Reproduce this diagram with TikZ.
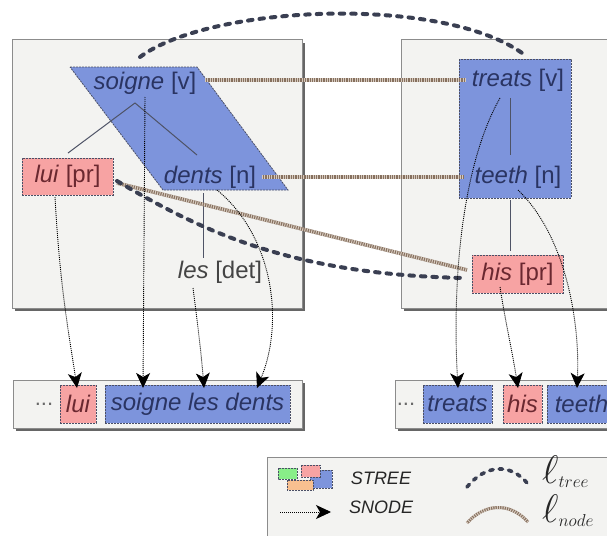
\documentclass[tikz,border=0pt]{standalone}
\usepackage{fontspec}
\setmainfont{Liberation Sans}
\usetikzlibrary{arrows.meta}
\definecolor{panelbg}{HTML}{F3F3F1}
\definecolor{panelline}{HTML}{8C8C8C}
\definecolor{shadowc}{HTML}{666666}
\definecolor{bluefill}{HTML}{7D94DC}
\definecolor{pinkfill}{HTML}{F7A3A3}
\definecolor{orangefill}{HTML}{F8C090}
\definecolor{greenfill}{HTML}{88EE88}
\definecolor{dashline}{HTML}{4A4F66}
\definecolor{bluetext}{HTML}{2A3462}
\definecolor{redtext}{HTML}{6A2830}
\definecolor{graytext}{HTML}{444444}
\definecolor{treeline}{HTML}{3A3F52}
\definecolor{edgeline}{HTML}{4E5366}
\definecolor{ropedark}{HTML}{86705E}
\definecolor{ropelight}{HTML}{D6CABF}
\begin{document}
\begin{tikzpicture}[x=1pt,y=-1pt,
  word/.style={font=\fontsize{24}{28}\selectfont, inner sep=0pt},
  bluebox/.style={fill=bluefill, draw=dashline, line width=0.8pt, dash pattern=on 2pt off 1pt},
  pinkbox/.style={fill=pinkfill, draw=dashline, line width=0.8pt, dash pattern=on 2pt off 1pt},
  panel/.style={fill=panelbg, draw=panelline, line width=1pt},
  tedge/.style={draw=edgeline, line width=1pt},
  snode/.style={draw=black, line width=0.9pt, dash pattern=on 1pt off 1pt, -{Stealth[length=15pt,width=14pt,inset=4pt]}},
  ltree/.style={draw=treeline, line width=4pt, line cap=round, dash pattern=on 4.5pt off 7pt},
  lnode/.style={draw=ropedark, line width=3.6pt, postaction={draw=ropelight, line width=3.6pt, dash pattern=on 1pt off 1.3pt}},
  cell/.style={font=\fontsize{24}{28}\selectfont\itshape, inner sep=0pt, minimum height=38pt}
]
\clip (0,0) rectangle (607,535);
\fill[white] (0,0) rectangle (607,535);

% ---- panels with shadows
\fill[shadowc] (15,43) rectangle (305,311);
\path[panel] (12,40) rectangle (302,308);
\fill[shadowc] (404,43) rectangle (643,311);
\path[panel] (401,40) rectangle (640,308);
\fill[shadowc] (16,383) rectangle (305,431);
\path[panel] (13,380) rectangle (302,428);
\fill[shadowc] (398,383) rectangle (643,431);
\path[panel] (395,380) rectangle (640,428);
\path[panel] (267,457) rectangle (640,560);

% ---- STREE regions
\path[bluebox] (70,67) -- (197,67) -- (288,190) -- (163,190) -- cycle;
\path[bluebox] (459,59) rectangle (571,198);

% ---- tree nodes
\node[word, text=bluetext] (soigne) at (145,83) {\textit{soigne} [v]};
\node[word, text=bluetext] (dents) at (210,177) {\textit{dents} [n]};
\node[word, pinkbox, text=redtext, minimum width=91pt, minimum height=37pt] (lui) at (67.5,176.5) {\textit{lui} [pr]};
\node[word, text=graytext] (les) at (220,272) {\textit{les} [det]};
\node[word, text=bluetext] (treats) at (518,80) {\textit{treats} [v]};
\node[word, text=bluetext] (teeth) at (518,177) {\textit{teeth} [n]};
\node[word, pinkbox, text=redtext, minimum width=91pt, minimum height=38pt] (his) at (517.5,274) {\textit{his} [pr]};

% ---- tree edges
\coordinate (sj) at (135,103);
\coordinate (luiT) at (68,153);
\coordinate (dentsT) at (197,155);
\draw[tedge] (luiT) -- (sj) -- (dentsT);
\coordinate (dentsB) at (203,193);
\coordinate (lesT) at (203,258);
\draw[tedge] (dentsB) -- (lesT);
\coordinate (treatsB) at (510,98);
\coordinate (teethT) at (510,155);
\draw[tedge] (treatsB) -- (teethT);
\coordinate (teethB) at (510,200);
\coordinate (hisT) at (510,251);
\draw[tedge] (teethB) -- (hisT);

% ---- sentence rows
\node[font=\fontsize{22}{26}\selectfont, text=graytext!80] (dotsL) at (44,404) {...};
\node[cell, pinkbox, text=redtext, minimum width=36pt] (bLui) at (78,404) {lui};
\node[cell, bluebox, text=bluetext, minimum width=185pt] (bSld) at (197.5,404) {soigne les dents};
\node[font=\fontsize{22}{26}\selectfont, text=graytext!80] (dotsR) at (406,404) {...};
\node[cell, bluebox, text=bluetext, minimum width=69pt] (bTreats) at (457.5,404) {treats};
\node[cell, pinkbox, text=redtext, minimum width=39pt] (bHis) at (522.5,404) {his};
\node[cell, bluebox, text=bluetext, minimum width=69pt] (bTeeth) at (581.5,404) {teeth};

% ---- l_node links
\coordinate (sR) at (205,80);
\coordinate (trL) at (466,80);
\draw[lnode] (sR) -- (trL);
\coordinate (dR) at (262,177);
\coordinate (tL) at (464,177);
\draw[lnode] (dR) -- (tL);
\coordinate (lR) at (117,183);
\coordinate (hL) at (467,270);
\draw[lnode] (lR) -- (hL);

% ---- l_tree links
\coordinate (t1a) at (140,57);
\coordinate (t1b) at (522,53);
\draw[ltree] (t1a) .. controls (210,5) and (440,-5) .. (t1b);
\coordinate (t2a) at (117,181);
\coordinate (t2b) at (466,278);
\draw[ltree] (t2a) .. controls (200,230) and (290,275) .. (t2b);

% ---- snode arrows
\coordinate (a1) at (55,197);  \coordinate (e1) at (77,388);
\draw[snode] (a1) .. controls (60,290) and (70,340) .. (e1);
\coordinate (a2) at (145,97);  \coordinate (e2) at (143,388);
\draw[snode] (a2) -- (e2);
\coordinate (a3) at (193,288); \coordinate (e3) at (204,388);
\draw[snode] (a3) .. controls (197,320) and (201,350) .. (e3);
\coordinate (a4) at (217,190); \coordinate (e4) at (257,388);
\draw[snode] (a4) .. controls (272,235) and (285,320) .. (e4);
\coordinate (a5) at (500,98);  \coordinate (e5) at (458,388);
\draw[snode] (a5) .. controls (462,165) and (452,280) .. (e5);
\coordinate (a6) at (500,287); \coordinate (e6) at (518,388);
\draw[snode] (a6) .. controls (505,320) and (512,350) .. (e6);
\coordinate (a7) at (518,190); \coordinate (e7) at (577,388);
\draw[snode] (a7) .. controls (565,235) and (580,320) .. (e7);

% ---- legend
\path[bluebox] (310,470) rectangle (332,488);
\path[pinkbox] (301,465) rectangle (320,477);
\path[draw=dashline, fill=orangefill, line width=0.8pt, dash pattern=on 2pt off 1pt] (287,480) rectangle (313,490);
\path[draw=dashline, fill=greenfill, line width=0.8pt, dash pattern=on 2pt off 1pt] (278,468) rectangle (297,479);
\node[font=\fontsize{18}{21}\selectfont\itshape, text=black!85] (lgS) at (381,478) {STREE};
\node[font=\fontsize{18}{21}\selectfont\itshape, text=black!85] (lgN) at (381,507) {SNODE};
\coordinate (lga) at (280,512); \coordinate (lgb) at (331,512);
\draw[snode] (lga) -- (lgb);
\coordinate (lt1) at (467,487); \coordinate (lt2) at (528,484);
\draw[ltree, line width=3.6pt, dash pattern=on 3.5pt off 6pt] (lt1) .. controls (485,465) and (510,462) .. (lt2);
\coordinate (ln1) at (467,523); \coordinate (ln2) at (528,522);
\draw[draw=ropedark, line width=3pt, postaction={draw=ropelight, line width=3pt, dash pattern=on 1pt off 1.3pt}] (ln1) .. controls (485,503) and (510,502) .. (ln2);
\node[anchor=west, inner sep=0pt, text=black!85, scale=1.2] (lgT) at (542,472) {\huge$\scalebox{1.6}{$\ell$}_{tree}$};
\node[anchor=west, inner sep=0pt, text=black!85, scale=1.2] (lgNo) at (542,511) {\huge$\scalebox{1.6}{$\ell$}_{node}$};
\end{tikzpicture}
\end{document}
